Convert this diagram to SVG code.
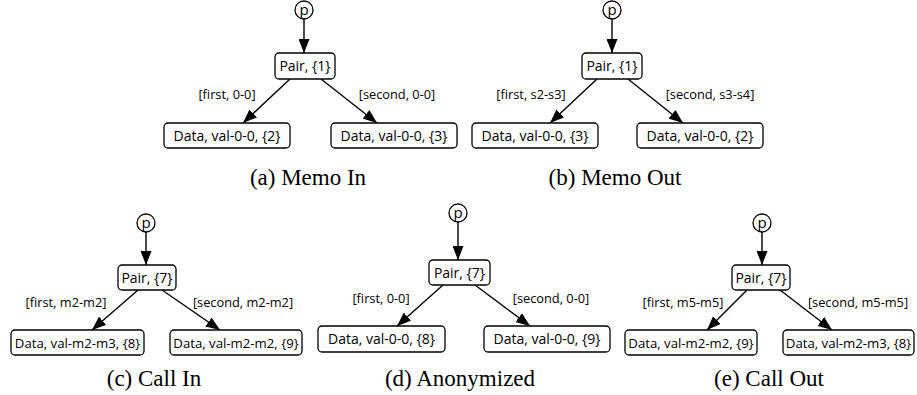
<svg xmlns="http://www.w3.org/2000/svg" width="917" height="395" viewBox="0 0 917 395">
<style>
.box{fill:#fff;stroke:#000;stroke-width:1.3}
.circ{fill:#fff;stroke:#000;stroke-width:1.3}
.t{font-family:"Open Sans","DejaVu Sans",sans-serif;font-size:14px;text-anchor:middle;fill:#000}
.t2{font-family:"Open Sans","DejaVu Sans",sans-serif;font-size:13.2px;text-anchor:middle;fill:#000}
.pp{font-family:"Open Sans","DejaVu Sans",sans-serif;font-size:15px;text-anchor:middle;fill:#000}
.lbl{font-family:"Open Sans","DejaVu Sans",sans-serif;font-size:12.8px;text-anchor:middle;fill:#000}
.cap{font-family:"Liberation Serif","Times New Roman",serif;font-size:23px;text-anchor:middle;fill:#000}
.e{stroke:#000;stroke-width:1.4;fill:none;marker-end:url(#ah)}
</style>
<defs>
<marker id="ah" viewBox="0 0 14 11" refX="14" refY="5.5" markerWidth="14" markerHeight="11" markerUnits="userSpaceOnUse" orient="auto">
<path d="M0,0 L14,5.5 L0,11 z" fill="#000"/>
</marker>
</defs>
<g id="connectors">
<line class="e" x1="304" y1="19" x2="304" y2="53"/>
<line class="e" x1="290" y1="79" x2="243" y2="123"/>
<line class="e" x1="321" y1="79" x2="377" y2="123"/>
<line class="e" x1="612" y1="19" x2="612" y2="53"/>
<line class="e" x1="597" y1="79" x2="550" y2="123"/>
<line class="e" x1="628" y1="79" x2="683" y2="123"/>
<line class="e" x1="146" y1="232" x2="146" y2="265"/>
<line class="e" x1="138" y1="290" x2="92" y2="330"/>
<line class="e" x1="162" y1="290" x2="220" y2="330"/>
<line class="e" x1="458" y1="222" x2="458" y2="260"/>
<line class="e" x1="443" y1="285" x2="397" y2="326"/>
<line class="e" x1="475" y1="285" x2="530" y2="326"/>
<line class="e" x1="762" y1="232" x2="762" y2="265"/>
<line class="e" x1="747" y1="290" x2="707" y2="330"/>
<line class="e" x1="780" y1="290" x2="832" y2="330"/>
</g>
<g id="labels">
<text class="lbl" x="227" y="99">[first, 0-0]</text>
<text class="lbl" x="397" y="99">[second, 0-0]</text>
<text class="lbl" x="531" y="99">[first, s2-s3]</text>
<text class="lbl" x="710" y="99">[second, s3-s4]</text>
<text class="lbl" x="66" y="307">[first, m2-m2]</text>
<text class="lbl" x="243" y="307">[second, m2-m2]</text>
<text class="lbl" x="381" y="303">[first, 0-0]</text>
<text class="lbl" x="551" y="303">[second, 0-0]</text>
<text class="lbl" x="683" y="307">[first, m5-m5]</text>
<text class="lbl" x="858" y="307">[second, m5-m5]</text>
</g>
<g id="a-p"><circle class="circ" cx="304" cy="10" r="9"/><text class="pp" x="304" y="14.5">p</text></g>
<g id="a-pair"><rect class="box" x="275" y="53" width="60" height="26" rx="4"/><text class="t" x="305" y="71">Pair, {1}</text></g>
<g id="a-data1"><rect class="box" x="164" y="123" width="126" height="25" rx="4"/><text class="t" x="227" y="140.5">Data, val-0-0, {2}</text></g>
<g id="a-data2"><rect class="box" x="331" y="123" width="126" height="25" rx="4"/><text class="t" x="394" y="140.5">Data, val-0-0, {3}</text></g>
<g id="b-p"><circle class="circ" cx="612" cy="10" r="9"/><text class="pp" x="612" y="14.5">p</text></g>
<g id="b-pair"><rect class="box" x="582" y="53" width="60" height="26" rx="4"/><text class="t" x="612" y="71">Pair, {1}</text></g>
<g id="b-data1"><rect class="box" x="472" y="123" width="126" height="25" rx="4"/><text class="t" x="535" y="140.5">Data, val-0-0, {3}</text></g>
<g id="b-data2"><rect class="box" x="637" y="123" width="126" height="25" rx="4"/><text class="t" x="700" y="140.5">Data, val-0-0, {2}</text></g>
<g id="c-p"><circle class="circ" cx="146" cy="223" r="9"/><text class="pp" x="146" y="227.5">p</text></g>
<g id="c-pair"><rect class="box" x="118" y="265" width="58" height="25" rx="4"/><text class="t" x="147" y="282.5">Pair, {7}</text></g>
<g id="c-data1"><rect class="box" x="11" y="330" width="133" height="25" rx="4"/><text class="t2" x="77.5" y="347.5">Data, val-m2-m3, {8}</text></g>
<g id="c-data2"><rect class="box" x="170" y="330" width="132" height="25" rx="4"/><text class="t2" x="236" y="347.5">Data, val-m2-m2, {9}</text></g>
<g id="d-p"><circle class="circ" cx="458" cy="213" r="9"/><text class="pp" x="458" y="217.5">p</text></g>
<g id="d-pair"><rect class="box" x="429" y="260" width="61" height="25" rx="4"/><text class="t" x="459.5" y="277.5">Pair, {7}</text></g>
<g id="d-data1"><rect class="box" x="318" y="326" width="127" height="26" rx="4"/><text class="t" x="381.5" y="344">Data, val-0-0, {8}</text></g>
<g id="d-data2"><rect class="box" x="484" y="326" width="126" height="26" rx="4"/><text class="t" x="547" y="344">Data, val-0-0, {9}</text></g>
<g id="e-p"><circle class="circ" cx="762" cy="223" r="9"/><text class="pp" x="762" y="227.5">p</text></g>
<g id="e-pair"><rect class="box" x="732" y="265" width="58" height="25" rx="4"/><text class="t" x="761" y="282.5">Pair, {7}</text></g>
<g id="e-data1"><rect class="box" x="625" y="330" width="132" height="25" rx="4"/><text class="t2" x="691" y="347.5">Data, val-m2-m2, {9}</text></g>
<g id="e-data2"><rect class="box" x="783" y="330" width="131" height="25" rx="4"/><text class="t2" x="848.5" y="347.5">Data, val-m2-m3, {8}</text></g>
<g id="captions">
<text class="cap" x="308" y="185">(a) Memo In</text>
<text class="cap" x="615" y="185">(b) Memo Out</text>
<text class="cap" x="154" y="386">(c) Call In</text>
<text class="cap" x="460" y="386">(d) Anonymized</text>
<text class="cap" x="769" y="386">(e) Call Out</text>
</g>
</svg>
